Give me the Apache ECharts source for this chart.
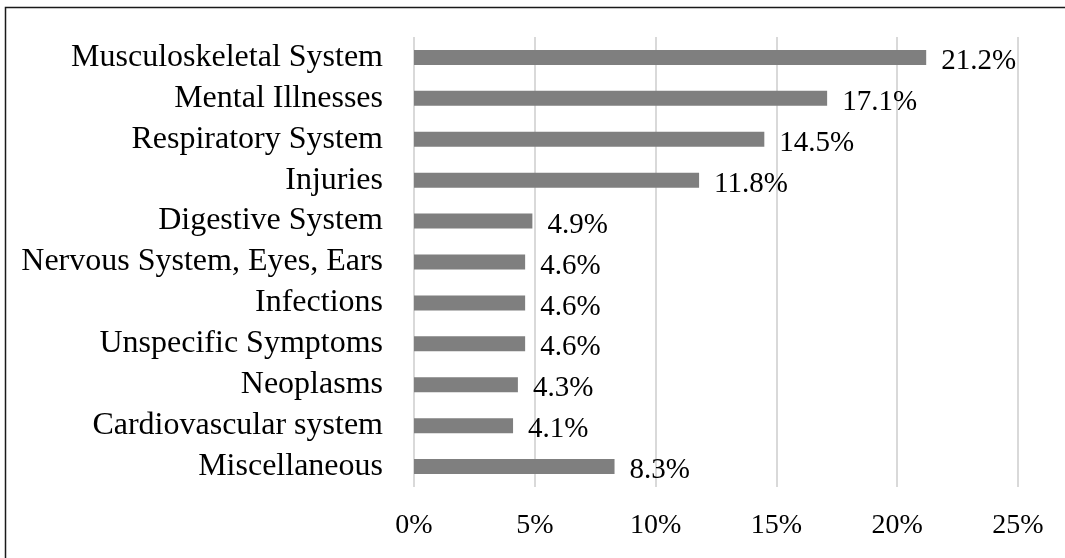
<!DOCTYPE html>
<html>
<head>
<meta charset="utf-8">
<script src="https://cdn.jsdelivr.net/npm/echarts@6/dist/echarts.min.js"></script>
<style>
  html, body { margin: 0; padding: 0; background: #fff; }
  #chart { width: 1065px; height: 558px; }
</style>
</head>
<body>
<div id="chart"></div>
<script>
// Share of sick-leave cases by diagnosis group
const categories = [
  'Musculoskeletal System',
  'Mental Illnesses',
  'Respiratory System',
  'Injuries',
  'Digestive System',
  'Nervous System, Eyes, Ears',
  'Infections',
  'Unspecific Symptoms',
  'Neoplasms',
  'Cardiovascular system',
  'Miscellaneous'
];
const shares = [21.2, 17.1, 14.5, 11.8, 4.9, 4.6, 4.6, 4.6, 4.3, 4.1, 8.3];
const xTicks = [0, 5, 10, 15, 20, 25];

const FONT = '"Liberation Serif", "DejaVu Serif", serif';

const chart = echarts.init(document.getElementById('chart'), null, { renderer: 'canvas' });

chart.setOption({
  backgroundColor: '#ffffff',
  animation: false,
  graphic: [{
    type: 'rect',
    shape: { x: 5.5, y: 7.5, width: 1200, height: 700 },
    style: { fill: 'none', stroke: '#1a1a1a', lineWidth: 1.5 },
    silent: true
  }],
  grid: { left: 414, right: 47, top: 37, bottom: 71, containLabel: false },
  xAxis: {
    type: 'value',
    min: xTicks[0],
    max: xTicks[xTicks.length - 1],
    interval: 5,
    axisLine: { show: false },
    axisTick: { show: false },
    splitLine: { show: true, lineStyle: { color: '#d9d9d9', width: 2 } },
    axisLabel: {
      margin: 25,
      color: '#000',
      fontFamily: FONT,
      fontSize: 28,
      formatter: v => v + '%'
    }
  },
  yAxis: {
    type: 'category',
    data: categories,
    inverse: true,
    axisLine: { show: false },
    axisTick: { show: false },
    axisLabel: {
      interval: 0,
      margin: 31,
      color: '#000',
      fontFamily: FONT,
      fontSize: 32
    }
  },
  series: [{
    type: 'bar',
    data: shares,
    barWidth: 15,
    itemStyle: { color: '#7f7f7f' },
    label: {
      show: true,
      position: 'right',
      distance: 15,
      color: '#000',
      fontFamily: FONT,
      fontSize: 29,
      offset: [0, 4],
      formatter: p => p.value.toFixed(1) + '%'
    }
  }]
});
</script>
</body>
</html>
